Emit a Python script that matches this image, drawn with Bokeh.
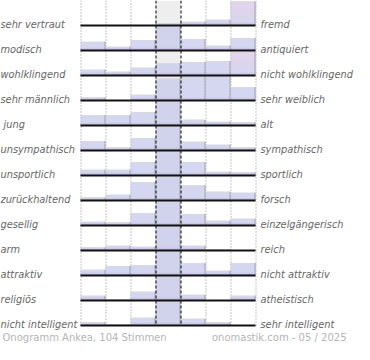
from bokeh.plotting import figure
from bokeh.models import Range1d, ColumnDataSource
from bokeh.embed import file_html
from bokeh.resources import INLINE
from bokeh.core.properties import value

left_labels = ["sehr vertraut", "modisch", "wohlklingend", "sehr männlich", " jung",
               "unsympathisch", "unsportlich", "zurückhaltend", "gesellig", "arm",
               "attraktiv", "religiös", "nicht intelligent"]
right_labels = ["fremd", "antiquiert", "nicht wohlklingend", "sehr weiblich", "alt",
                "sympathisch", "sportlich", "forsch", "einzelgängerisch", "reich",
                "nicht attraktiv", "atheistisch", "sehr intelligent"]

# share of votes (%) for each of the 7 scale positions, per row
pos1 = [0, 9, 6, 3, 11, 10, 6, 3, 4, 3, 6, 5, 3]
pos2 = [0, 4, 4, 0, 11, 3, 6, 6, 3, 5, 10, 1, 1]
pos3 = [0, 11, 8, 6, 14, 13, 14, 19, 13, 4, 11, 9, 8]
pos4 = [2, 47, 13, 23, 52, 57, 54, 39, 56, 82, 43, 74, 78]
pos5 = [4, 12, 14, 27, 6, 9, 14, 16, 12, 5, 13, 6, 7]
pos6 = [6, 5, 15, 27, 4, 6, 4, 9, 5, 1, 5, 0, 3]
pos7 = [88, 13, 40, 14, 3, 3, 3, 8, 7, 0, 13, 5, 0]

footer_left = "Onogramm Ankea, 104 Stimmen"
footer_right = "onomastik.com - 05 / 2025"

W, H = 354, 344
X0 = 80.5      # left edge of the scale
CW = 25        # column width
ROW = 25       # row spacing
BASE0 = 25     # baseline of first row
BARMAX = 24    # visible bar height per row
SCALE = 0.96   # px per percent
NROWS = len(left_labels)
cols = [pos1, pos2, pos3, pos4, pos5, pos6, pos7]

p = figure(width=W, height=H, x_range=Range1d(0, W), y_range=Range1d(H, 0),
           output_backend="svg", toolbar_location=None, min_border=0,
           x_axis_location=None, y_axis_location=None)
p.grid.visible = False
p.outline_line_color = None
p.background_fill_color = "white"

last_base = BASE0 + (NROWS - 1) * ROW

# highlighted middle column
p.quad(left=[X0 + 3 * CW - 0.5], right=[X0 + 4 * CW - 0.5], top=[0], bottom=[last_base],
       fill_color="#eeeeee", line_color=None)

# dotted separators
dx = [X0 + i * CW for i in (0, 1, 2, 5, 6, 7)]
p.segment(x0=dx, x1=dx, y0=[0] * len(dx), y1=[last_base] * len(dx),
          line_color="#8c8c8c", line_width=1, line_dash="1 2")

def mix(a, b, t):
    t = max(0.0, min(1.0, t))
    return tuple(int(round(a[k] + (b[k] - a[k]) * t)) for k in range(3))

blue = (197, 202, 234)
purple = (172, 158, 212)
pink = (221, 196, 228)

L, R, T, B, C = [], [], [], [], []
eL, eR, eT, eB, eC = [], [], [], [], []
for r in range(NROWS):
    base = BASE0 + r * ROW
    for c in range(7):
        v = cols[c][r]
        hgt = min(v * SCALE, BARMAX)
        if hgt <= 0.3:
            continue
        left = X0 - 0.5 + c * CW
        right = left + CW
        n = int(hgt + 0.999)
        for h in range(n):
            col = blue
            if c != 3 and v > 30:
                col = mix(blue, pink, h / BARMAX)
            if h < 3:
                col = mix(purple, col, h / 3.0)
            L.append(left); R.append(right)
            B.append(base - h); T.append(base - min(h + 1, hgt))
            C.append("#%02x%02x%02x" % col)
        # top highlight & right shadow
        eL.append(left); eR.append(right); eT.append(base - hgt); eB.append(base - hgt + 1); eC.append("#d8d8e0")
        eL.append(right - 1); eR.append(right); eT.append(base - hgt); eB.append(base); eC.append("#a2a2ae")

p.quad(source=ColumnDataSource(dict(left=L, right=R, top=T, bottom=B, color=C)),
       left="left", right="right", top="top", bottom="bottom",
       fill_color="color", line_color=None)
p.quad(source=ColumnDataSource(dict(left=eL, right=eR, top=eT, bottom=eB, color=eC)),
       left="left", right="right", top="top", bottom="bottom",
       fill_color="color", line_color=None)

# dashed middle borders
mx = [X0 + 3 * CW, X0 + 4 * CW]
p.segment(x0=mx, x1=mx, y0=[0, 0], y1=[last_base, last_base],
          line_color="black", line_width=1, line_dash="3 2")

# baselines
bases = [BASE0 + r * ROW for r in range(NROWS)]
p.segment(x0=[X0 - 0.5] * NROWS, x1=[X0 + 7 * CW - 0.5] * NROWS, y0=bases, y1=bases,
          line_color="#111111", line_width=2)

# labels (keep a leading space visible)
shown_left = [("\u00a0" + s[1:]) if s.startswith(" ") else s for s in left_labels]
ty = [b - 1 for b in bases]
p.text(x=[0] * NROWS, y=ty, text=shown_left, text_font=value("DejaVu Sans"),
       text_font_style="italic", text_font_size="9.8px", text_color="#666666",
       text_baseline="alphabetic", text_align="left")
p.text(x=[260] * NROWS, y=ty, text=right_labels, text_font=value("DejaVu Sans"),
       text_font_style="italic", text_font_size="9.8px", text_color="#666666",
       text_baseline="alphabetic", text_align="left")

# footer
p.text(x=[2], y=[337], text=[footer_left], text_font=value("DejaVu Sans"),
       text_font_size="10px", text_color="#b4b4b4", text_baseline="alphabetic", text_align="left")
p.text(x=[346], y=[337], text=[footer_right], text_font=value("DejaVu Sans"),
       text_font_size="10px", text_color="#b4b4b4", text_baseline="alphabetic", text_align="right")

open("out.html", "w").write(file_html(p, INLINE))
